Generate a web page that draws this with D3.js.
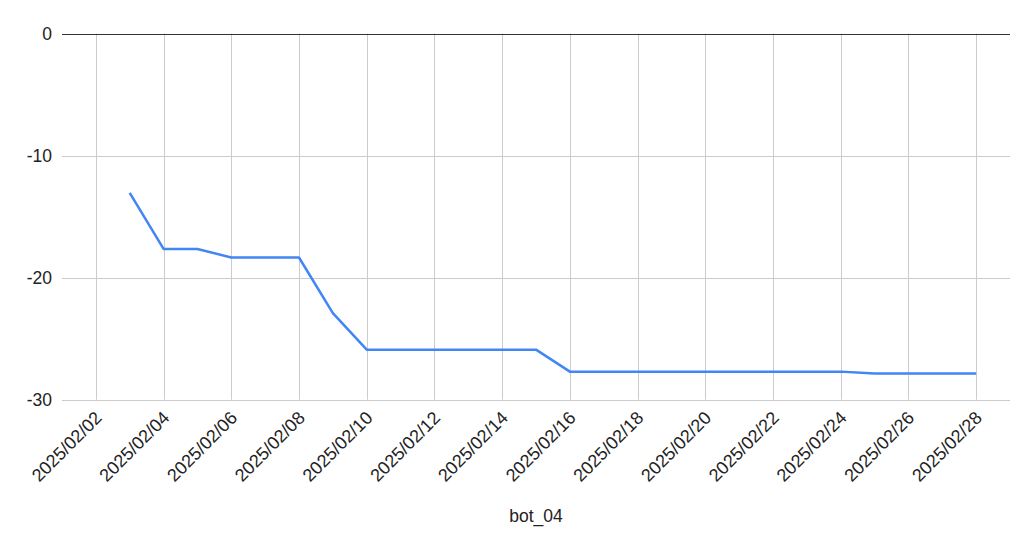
<!DOCTYPE html>
<meta charset="utf-8">
<body style="margin:0;background:#fff">
<script src="https://d3js.org/d3.v7.min.js"></script>
<script>
// bot_04 values, one per day
var dates = ["2025/02/03","2025/02/04","2025/02/05","2025/02/06","2025/02/07","2025/02/08",
  "2025/02/09","2025/02/10","2025/02/11","2025/02/12","2025/02/13","2025/02/14","2025/02/15",
  "2025/02/16","2025/02/17","2025/02/18","2025/02/19","2025/02/20","2025/02/21","2025/02/22",
  "2025/02/23","2025/02/24","2025/02/25","2025/02/26","2025/02/27","2025/02/28"];
var values = [-13.05,-17.65,-17.65,-18.35,-18.35,-18.35,
  -22.9,-25.9,-25.9,-25.9,-25.9,-25.9,-25.9,
  -27.7,-27.7,-27.7,-27.7,-27.7,-27.7,-27.7,
  -27.7,-27.7,-27.85,-27.85,-27.85,-27.85];
var yTicks = [0,-10,-20,-30];
var seriesName = "bot_04";

var width = 1031, height = 544;
var parse = d3.timeParse("%Y/%m/%d");
var data = dates.map(function(d, i) { return {date: parse(d), value: values[i]}; });

var svg = d3.select("body").append("svg")
    .attr("width", width)
    .attr("height", height)
    .style("font-family", "Arial, 'Liberation Sans', sans-serif");

var x = d3.scaleTime()
    .domain([parse("2025/02/01"), parse("2025/03/01")])
    .range([62, 1010]);

var y = d3.scaleLinear()
    .domain([-30, 0])
    .range([399.7, 33.5]);

var xTicks = d3.timeDay.range(parse("2025/02/02"), parse("2025/03/01"), 2);

// gridlines
svg.append("g")
  .selectAll("line")
  .data(xTicks)
  .enter().append("line")
    .attr("x1", function(d) { return Math.round(x(d)) + 0.5; })
    .attr("x2", function(d) { return Math.round(x(d)) + 0.5; })
    .attr("y1", y(0))
    .attr("y2", y(-30))
    .attr("stroke", "#cccccc")
    .attr("stroke-width", 1);

svg.append("g")
  .selectAll("line")
  .data(yTicks)
  .enter().append("line")
    .attr("x1", x.range()[0])
    .attr("x2", x.range()[1])
    .attr("y1", function(d) { return Math.round(y(d)) + 0.5; })
    .attr("y2", function(d) { return Math.round(y(d)) + 0.5; })
    .attr("stroke", function(d) { return d === 0 ? "#333333" : "#cccccc"; })
    .attr("stroke-width", 1);

// y labels
svg.append("g")
  .selectAll("text")
  .data(yTicks)
  .enter().append("text")
    .attr("x", 52)
    .attr("y", function(d) { return y(d); })
    .attr("dy", "0.35em")
    .attr("text-anchor", "end")
    .attr("font-size", 17.5)
    .attr("fill", "#222")
    .text(function(d) { return d; });

// x labels, rotated
var fmt = d3.timeFormat("%Y/%m/%d");
svg.append("g")
  .selectAll("text")
  .data(xTicks)
  .enter().append("text")
    .attr("transform", function(d) { return "translate(" + (x(d) + 7) + "," + 419 + ")rotate(-45)"; })
    .attr("text-anchor", "end")
    .attr("font-size", 18)
    .attr("fill", "#222")
    .text(function(d) { return fmt(d); });

// axis title
svg.append("text")
    .attr("x", 536)
    .attr("y", 522)
    .attr("text-anchor", "middle")
    .attr("font-size", 17.5)
    .attr("fill", "#222")
    .text(seriesName);

// line
var line = d3.line()
    .x(function(d) { return x(d.date); })
    .y(function(d) { return y(d.value); });

svg.append("path")
    .datum(data)
    .attr("fill", "none")
    .attr("stroke", "#4285f4")
    .attr("stroke-width", 2.5)
    .attr("stroke-linejoin", "round")
    .attr("d", line);
</script>
</body>
